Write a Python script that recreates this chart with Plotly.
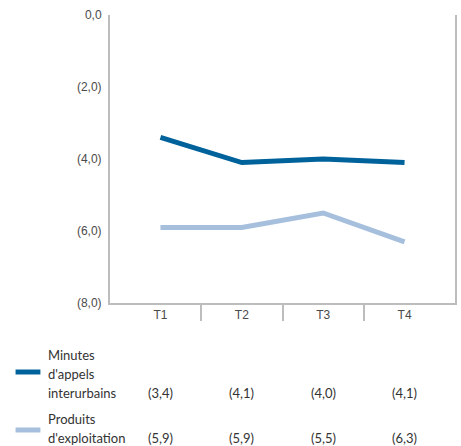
import plotly.graph_objects as go

# Quarterly year-over-year change (%)
quarters = ["T1", "T2", "T3", "T4"]
minutes_interurbains = [-3.4, -4.1, -4.0, -4.1]
produits_exploitation = [-5.9, -5.9, -5.5, -6.3]
series_names = [["Minutes", "d'appels", "interurbains"], ["Produits", "d'exploitation"]]
y_ticks = [0, -2, -4, -6, -8]

DARK = "#00629B"
LIGHT = "#A6BFDD"
AXIS = "#BDBDBD"
TEXT = "#4A4A4A"
FONT = "Liberation Sans, Arial, sans-serif"
LEG_FONT = "Lato, sans-serif"

W, H = 461, 446
ML, MR, MT, MB = 110, 4, 15, 143
PW, PH = W - ML - MR, H - MT - MB


def fmt(v):
    s = f"{abs(v):.1f}".replace(".", ",")
    return s if v >= 0 else f"({s})"


def px_x(px):
    return (px - ML) / PW


def px_y(py):
    return (MT + PH - py) / PH


x_idx = list(range(len(quarters)))

fig = go.Figure()
for vals, color in [(minutes_interurbains, DARK), (produits_exploitation, LIGHT)]:
    fig.add_trace(go.Scatter(x=x_idx, y=vals, mode="lines",
                             line=dict(color=color, width=5),
                             showlegend=False, hoverinfo="skip"))

# legend table under the chart
rows = [
    dict(names=series_names[0], vals=minutes_interurbains, color=DARK,
         line_y=[355, 374, 393], swatch_y=372),
    dict(names=series_names[1], vals=produits_exploitation, color=LIGHT,
         line_y=[419, 438], swatch_y=430),
]
annotations = []
shapes = []
for row in rows:
    for txt, ly in zip(row["names"], row["line_y"]):
        annotations.append(dict(text=txt, xref="paper", yref="paper",
                                x=px_x(46), y=px_y(ly), xanchor="left", yanchor="middle",
                                showarrow=False, font=dict(family=LEG_FONT, size=13, color="#333")))
    for i, v in enumerate(row["vals"]):
        annotations.append(dict(text=fmt(v), xref="x", yref="paper",
                                x=i, y=px_y(row["line_y"][-1]), xanchor="center", yanchor="middle",
                                showarrow=False, font=dict(family=LEG_FONT, size=13, color="#333")))
    shapes.append(dict(type="line", xref="paper", yref="paper",
                       x0=px_x(15), x1=px_x(40), y0=px_y(row["swatch_y"]), y1=px_y(row["swatch_y"]),
                       line=dict(color=row["color"], width=5)))

x_range = [-0.62, 3.62]
fig.update_layout(
    width=W, height=H,
    margin=dict(l=ML, r=MR, t=MT, b=MB),
    paper_bgcolor="white", plot_bgcolor="white",
    xaxis=dict(range=x_range, tickvals=x_idx, ticktext=quarters, ticks="",
               showline=True, linecolor=AXIS, linewidth=2, showgrid=False, zeroline=False,
               tickfont=dict(family=FONT, size=12, color=TEXT), fixedrange=True),
    xaxis2=dict(range=x_range, overlaying="x", anchor="y", side="bottom",
                tickvals=[i + 0.5 for i in x_idx[:-1]], ticks="outside", ticklen=17,
                tickwidth=1.5, tickcolor=AXIS, showticklabels=False,
                showline=False, showgrid=False, zeroline=False),
    yaxis=dict(range=[-8, 0], tickvals=y_ticks, ticktext=[fmt(v) for v in y_ticks],
               ticks="", showline=True, mirror=True, linecolor=AXIS, linewidth=2,
               showgrid=False, zeroline=False, ticklabelstandoff=4,
               tickfont=dict(family=FONT, size=12, color=TEXT)),
    annotations=annotations,
    shapes=shapes,
    showlegend=False,
)
# invisible trace so the secondary x axis (category separators) is drawn
fig.add_trace(go.Scatter(x=[x_range[0]], y=[None], xaxis="x2", showlegend=False, hoverinfo="skip"))

fig.write_html("out.html")
